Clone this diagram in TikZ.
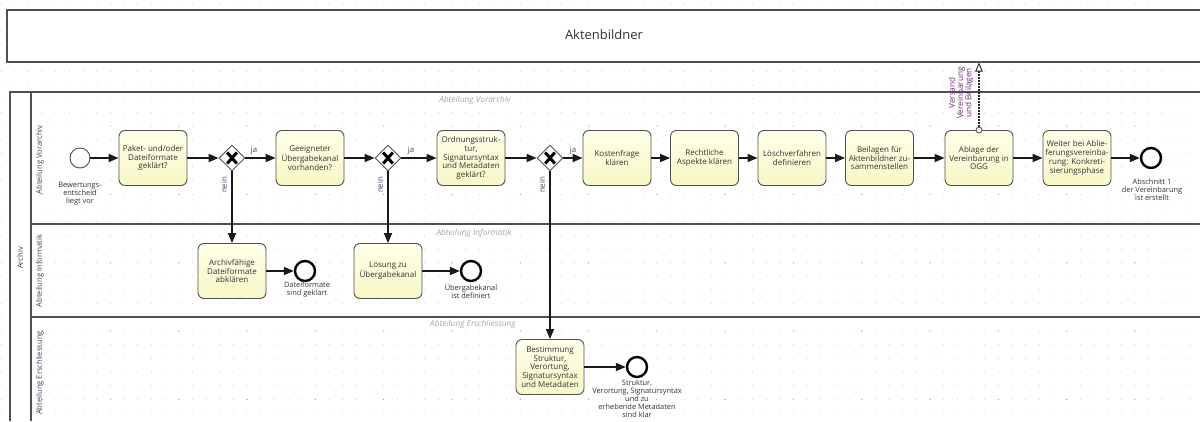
\documentclass[tikz,border=0pt]{standalone}
\usepackage{fontspec}
\setmainfont{Open Sans}
\usepackage{xcolor}
\usepackage{tikz}
\usetikzlibrary{arrows.meta,shapes.geometric}

\definecolor{linegray}{HTML}{505050}
\definecolor{textgray}{HTML}{333333}
\definecolor{lanepurple}{HTML}{4B3A5A}
\definecolor{msgpurple}{HTML}{6A2C74}
\definecolor{dotgray}{HTML}{D2D2D2}
\definecolor{dotdark}{HTML}{9C9C9C}
\definecolor{taskTop}{HTML}{FFFFEA}
\definecolor{taskBot}{HTML}{F7F7C6}
\definecolor{watermark}{HTML}{A6A6A6}

\begin{document}
\begin{tikzpicture}[x=1pt,y=-1pt,
  task/.style={draw=linegray, line width=0.9pt, rounded corners=6pt,
    top color=taskTop, bottom color=taskBot, minimum width=68pt,
    minimum height=55pt, align=center, inner sep=1pt, text=textgray,
    font=\fontsize{8}{8.8}\selectfont},
  gateway/.style={diamond, draw=linegray, fill=white, line width=0.9pt,
    minimum size=26pt, inner sep=0pt,
    path picture={\draw[line width=3pt, black]
      ([shift={(-4.8pt,-5.5pt)}]path picture bounding box.center) --
      ([shift={(4.8pt,5.5pt)}]path picture bounding box.center)
      ([shift={(-4.8pt,5.5pt)}]path picture bounding box.center) --
      ([shift={(4.8pt,-5.5pt)}]path picture bounding box.center);}},
  startev/.style={circle, draw=linegray, fill=white, line width=0.9pt,
    minimum size=20pt, inner sep=0pt},
  endev/.style={circle, draw=black, fill=white, line width=2.4pt,
    minimum size=20pt, inner sep=0pt},
  evlabel/.style={align=center, text=textgray, inner sep=0pt,
    font=\fontsize{7.4}{7.9}\selectfont},
  flowlabel/.style={text=lanepurple, inner sep=0pt,
    font=\fontsize{7.8}{8}\selectfont},
  lanelabel/.style={rotate=90, text=lanepurple, inner sep=0pt,
    font=\fontsize{7.6}{8}\selectfont},
  watermarklabel/.style={text=watermark, inner sep=0pt,
    font=\fontsize{8.3}{9}\selectfont\itshape},
  flow/.style={draw=black!90, line width=1.6pt,
    -{Triangle[length=10pt,width=8pt]}},
  msgflow/.style={draw=black!85, line width=1.5pt,
    dash pattern=on 1.5pt off 1.5pt,
    -{Triangle[fill=white,length=9pt,width=7.5pt,line width=0.9pt]}},
  frame/.style={draw=linegray, line width=1.1pt}]

  \useasboundingbox (0,0) rectangle (1200,421);

  % Dot grid
  \foreach \i in {0,...,87} {
    \foreach \j in {0,...,30} {
      \fill[dotgray] (1.2+13.66*\i,3.2+13.66*\j) circle (0.6);
    }
  }
  \foreach \i in {3,8,...,87} {
    \foreach \j in {4,9,...,30} {
      \fill[dotdark] (1.2+13.66*\i,3.2+13.66*\j) circle (0.6);
    }
  }

  % Pool Aktenbildner
  \fill[white] (7,10) rectangle (1200,62);
  \draw[frame] (1200,10) -- (7,10) -- (7,62) -- (1200,62);
  \node[font=\fontsize{13}{15}\selectfont, text=textgray] (akten) at (604,35) {Aktenbildner};
  \coordinate (aktenIn) at (979,62.5);

  % Pool Archiv
  \fill[white] (10,92) rectangle (31,421);
  \draw[frame] (1200,92) -- (10,92) -- (10,421);
  \draw[frame] (31,92) -- (31,421);
  \draw[frame] (31,224) -- (1200,224);
  \draw[frame] (31,317) -- (1200,317);
  \node[lanelabel] (archiv) at (20,258) {Archiv};

  % Lane labels
  \node[lanelabel] (laneVor) at (40,160) {Abteilung Vorarchiv};
  \node[lanelabel] (laneInf) at (40,271) {Abteilung Informatik};
  \node[lanelabel] (laneErs) at (40,373) {Abteilung Erschliessung};
  \node[watermarklabel] (wmVor) at (475,100) {Abteilung Vorarchiv};
  \node[watermarklabel] (wmInf) at (474,233) {Abteilung Informatik};
  \node[watermarklabel] (wmErs) at (473,324) {Abteilung Erschliessung};

  % Abteilung Vorarchiv
  \node[startev] (start) at (80,158) {};
  \node[evlabel] (startLbl) at (80,194) {Bewertungs-\\entscheid\\liegt vor};
  \node[task] (formate) at (153,158) {Paket- und/oder\\Dateiformate\\geklärt?};
  \node[gateway] (gwFormate) at (232,158) {};
  \node[task] (kanal) at (310,158) {Geeigneter\\Übergabekanal\\vorhanden?};
  \node[gateway] (gwKanal) at (388,158) {};
  \node[task] (ordnung) at (471,158) {Ordnungsstruk-\\tur,\\Signatursyntax\\und Metadaten\\geklärt?};
  \node[gateway] (gwOrdnung) at (550,158) {};
  \node[task] (kosten) at (617,158) {Kostenfrage\\klären};
  \node[task] (recht) at (704.5,158) {Rechtliche\\Aspekte klären};
  \node[task] (loesch) at (792,158) {Löschverfahren\\definieren};
  \node[task] (beilagen) at (879.5,158) {Beilagen für\\Aktenbildner zu-\\sammenstellen};
  \node[task] (ablage) at (979,158) {Ablage der\\Vereinbarung in\\OGG};
  \node[task] (weiter) at (1077,158) {Weiter bei Ablie-\\ferungsvereinba-\\rung: Konkreti-\\sierungsphase};
  \node[endev] (endVor) at (1151,158) {};
  \node[evlabel] (endVorLbl) at (1152,190) {Abschnitt 1\\der Vereinbarung\\ist erstellt};

  % Abteilung Informatik
  \node[task] (archivfaehig) at (232,271) {Archivfähige\\Dateiformate\\abklären};
  \node[endev] (endFormate) at (305,271) {};
  \node[evlabel] (endFormateLbl) at (307,290) {Dateiformate\\sind geklärt};
  \node[task] (loesung) at (388,271) {Lösung zu\\Übergabekanal};
  \node[endev] (endKanal) at (471,271) {};
  \node[evlabel] (endKanalLbl) at (471,291) {Übergabekanal\\ist definiert};

  % Abteilung Erschliessung
  \node[task] (bestimmung) at (550,367) {Bestimmung\\Struktur,\\Verortung,\\Signatursyntax\\und Metadaten};
  \node[endev] (endStruktur) at (637,367) {};
  \node[evlabel] (endStrukturLbl) at (637,399) {Struktur,\\Verortung, Signatursyntax\\und zu\\erhebende Metadaten\\sind klar};

  % Sequence flows
  \draw[flow] (start) -- (formate);
  \draw[flow] (formate) -- (gwFormate);
  \draw[flow] (gwFormate) -- (kanal);
  \draw[flow] (kanal) -- (gwKanal);
  \draw[flow] (gwKanal) -- (ordnung);
  \draw[flow] (ordnung) -- (gwOrdnung);
  \draw[flow] (gwOrdnung) -- (kosten);
  \draw[flow] (kosten) -- (recht);
  \draw[flow] (recht) -- (loesch);
  \draw[flow] (loesch) -- (beilagen);
  \draw[flow] (beilagen) -- (ablage);
  \draw[flow] (ablage) -- (weiter);
  \draw[flow] (weiter) -- (endVor);
  \draw[flow] (gwFormate) -- (archivfaehig);
  \draw[flow] (gwKanal) -- (loesung);
  \draw[flow] (gwOrdnung) -- (bestimmung);
  \draw[flow] (archivfaehig) -- (endFormate);
  \draw[flow] (loesung) -- (endKanal);
  \draw[flow] (bestimmung) -- (endStruktur);

  % Gateway labels
  \node[flowlabel] (jaFormate) at (254,151) {ja};
  \node[flowlabel] (jaKanal) at (411,151) {ja};
  \node[flowlabel] (jaOrdnung) at (573,151) {ja};
  \node[flowlabel, rotate=90] (neinFormate) at (224,185) {nein};
  \node[flowlabel, rotate=90] (neinKanal) at (380,185) {nein};
  \node[flowlabel, rotate=90] (neinOrdnung) at (542,185) {nein};

  % Message flow to Aktenbildner
  \node[circle, draw=linegray, fill=white, line width=0.8pt, minimum size=6pt,
    inner sep=0pt] (msgStart) at (ablage.north) {};
  \draw[msgflow] (msgStart) -- (aktenIn);
  \node[rotate=90, align=center, text=msgpurple, inner sep=0pt,
    font=\fontsize{8.2}{8.2}\selectfont] (msgLbl) at (961,93) {Versand\\Vereinbarung\\und Beilagen};
\end{tikzpicture}
\end{document}
